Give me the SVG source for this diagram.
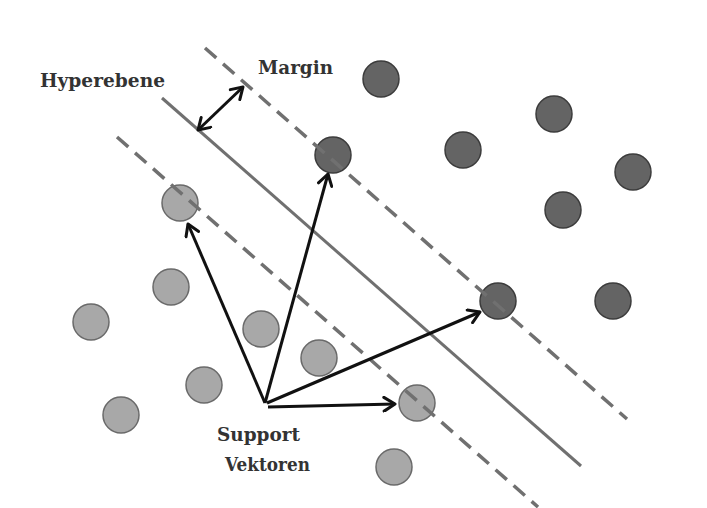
<svg xmlns="http://www.w3.org/2000/svg" width="707" height="508" viewBox="0 0 707 508">
<defs>
<style>
.lbl{font-family:"DejaVu Serif","Liberation Serif",serif;font-weight:bold;font-size:19px;fill:#333}
.hyp{stroke:#707070;stroke-width:3;fill:none}
.dash{stroke:#707070;stroke-width:3.5;fill:none;stroke-dasharray:15 9}
.pos{fill:#646464;stroke:#3c3c3c;stroke-width:1.5}
.neg{fill:#a8a8a8;stroke:#6a6a6a;stroke-width:1.5}
.arr{stroke:#111;stroke-width:3;fill:none;marker-end:url(#head)}
</style>
<marker id="head" viewBox="0 0 12 12" refX="10" refY="6" markerWidth="5.5" markerHeight="5.5" markerUnits="strokeWidth" orient="auto-start-reverse">
<path d="M2,1 L10,6 L2,11" fill="none" stroke="#111" stroke-width="2.2" stroke-linecap="round" stroke-linejoin="round"/>
</marker>
</defs>
<rect width="707" height="508" fill="#ffffff"/>
<g id="positive">
<circle class="pos" cx="381" cy="79" r="18"/>
<circle class="pos" cx="333" cy="155" r="18"/>
<circle class="pos" cx="463" cy="150" r="18"/>
<circle class="pos" cx="554" cy="114" r="18"/>
<circle class="pos" cx="633" cy="172" r="18"/>
<circle class="pos" cx="563" cy="210" r="18"/>
<circle class="pos" cx="498" cy="301" r="18"/>
<circle class="pos" cx="613" cy="301" r="18"/>
</g>
<g id="negative">
<circle class="neg" cx="180" cy="203" r="18"/>
<circle class="neg" cx="171" cy="287" r="18"/>
<circle class="neg" cx="91" cy="322" r="18"/>
<circle class="neg" cx="261" cy="329" r="18"/>
<circle class="neg" cx="319" cy="358" r="18"/>
<circle class="neg" cx="204" cy="385" r="18"/>
<circle class="neg" cx="121" cy="415" r="18"/>
<circle class="neg" cx="417" cy="403" r="18"/>
<circle class="neg" cx="394" cy="467" r="18"/>
</g>
<g id="lines">
<line class="hyp" x1="162" y1="98" x2="581" y2="466"/>
<line class="dash" x1="205" y1="48" x2="627" y2="419"/>
<line class="dash" x1="117" y1="137" x2="538" y2="507"/>
</g>
<g id="connectors">
<line class="arr" x1="265" y1="403" x2="188" y2="224"/>
<line class="arr" x1="265" y1="403" x2="328" y2="174"/>
<line class="arr" x1="267" y1="403" x2="480" y2="312"/>
<line class="arr" x1="268" y1="407" x2="395" y2="404"/>
<line class="arr" style="marker-start:url(#head)" x1="198" y1="130" x2="243" y2="87"/>
</g>
<g id="labels">
<text class="lbl" x="40" y="87" textLength="125" lengthAdjust="spacingAndGlyphs">Hyperebene</text>
<text class="lbl" x="258" y="74" textLength="75" lengthAdjust="spacingAndGlyphs">Margin</text>
<text class="lbl" x="217" y="441" textLength="83" lengthAdjust="spacingAndGlyphs">Support</text>
<text class="lbl" x="225" y="471" textLength="85" lengthAdjust="spacingAndGlyphs">Vektoren</text>
</g>
</svg>
